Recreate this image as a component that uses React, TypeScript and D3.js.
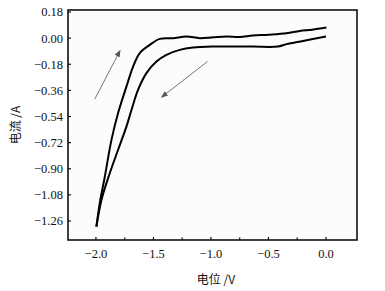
import React from "react";
import * as d3 from "d3";

const forwardX = [-1.996, -1.967, -1.923, -1.865, -1.808, -1.735, -1.677, -1.619, -1.532, -1.445, -1.33, -1.213, -1.097, -0.98, -0.865, -0.75, -0.637, -0.5, -0.343, -0.228, -0.12, 0.004];
const forwardY = [-1.299, -1.137, -0.955, -0.701, -0.517, -0.334, -0.196, -0.103, -0.046, -0.005, 0.0, 0.011, 0.0, 0.006, 0.011, 0.008, 0.018, 0.024, 0.034, 0.05, 0.058, 0.073];
const reverseX = [0.0, -0.2, -0.343, -0.419, -0.636, -0.837, -0.982, -1.156, -1.271, -1.387, -1.474, -1.561, -1.634, -1.691, -1.735, -1.808, -1.88, -1.952, -1.996];
const reverseY = [0.011, -0.019, -0.041, -0.058, -0.058, -0.058, -0.058, -0.065, -0.081, -0.115, -0.161, -0.241, -0.357, -0.495, -0.61, -0.771, -0.931, -1.115, -1.299];

const yTicks = [0.18, 0.0, -0.18, -0.36, -0.54, -0.72, -0.9, -1.08, -1.26];
const xTicks = [-2.0, -1.5, -1.0, -0.5, 0.0];
const xMinor = [-1.75, -1.25, -0.75, -0.25];

const arrowUp = [[-2.01, -0.42], [-1.79, -0.085]];
const arrowDown = [[-1.03, -0.161], [-1.43, -0.407]];

const fmt = (v: number) => (v < 0 ? "\u2212" : "") + Math.abs(v).toFixed(2);
const fmtX = (v: number) => (v < 0 ? "\u2212" : "") + Math.abs(v).toFixed(1);

export default function App() {
  const left = 68, right = 357, top = 10, bottom = 240;
  const x = d3.scaleLinear().domain([-2.243, 0.27]).range([left, right]);
  const y = d3.scaleLinear().domain([-1.391, 0.194]).range([bottom, top]);
  const line = d3.line<[number, number]>().x(d => x(d[0])).y(d => y(d[1])).curve(d3.curveCatmullRom.alpha(0.5));
  const fwd = forwardX.map((v, i) => [v, forwardY[i]] as [number, number]);
  const rev = reverseX.map((v, i) => [v, reverseY[i]] as [number, number]);
  const serif: React.CSSProperties = { fontFamily: "'Liberation Serif', 'Times New Roman', Times, serif" };
  const cjk: React.CSSProperties = { fontFamily: "'Noto Sans CJK SC', sans-serif" };
  const arrow = (a: number[][], key: string) => (
    <line key={key} x1={x(a[0][0])} y1={y(a[0][1])} x2={x(a[1][0])} y2={y(a[1][1])}
      stroke="#777" strokeWidth={1} markerEnd="url(#ah)" />
  );
  return (
    <svg width={385} height={291} style={{ position: "absolute", left: 0, top: 0 }}>
      <defs>
        <marker id="ah" viewBox="0 0 10 10" refX="9" refY="5" markerWidth="7" markerHeight="7" orient="auto" markerUnits="userSpaceOnUse">
          <path d="M0,1 L10,5 L0,9 z" fill="#555" />
        </marker>
      </defs>
      <rect x={0} y={0} width={385} height={291} fill="#fff" />
      <rect x={left} y={top} width={right - left} height={bottom - top} fill="#fcfcfc" stroke="#111" strokeWidth={1.6} />
      {yTicks.map(t => (
        <g key={"y" + t}>
          <line x1={left} x2={left + 3} y1={y(t)} y2={y(t)} stroke="#111" strokeWidth={1.2} />
          <text x={63} y={y(t)} dy="0.35em" textAnchor="end" style={serif} fontSize={12.5} fill="#111">{fmt(t)}</text>
        </g>
      ))}
      {xTicks.map(t => (
        <g key={"x" + t}>
          <line x1={x(t)} x2={x(t)} y1={bottom} y2={bottom - 3} stroke="#111" strokeWidth={1.2} />
          <text x={x(t)} y={258} textAnchor="middle" style={serif} fontSize={12.5} fill="#111">{fmtX(t)}</text>
        </g>
      ))}
      {xMinor.map(t => (
        <line key={"m" + t} x1={x(t)} x2={x(t)} y1={bottom} y2={bottom - 2.5} stroke="#111" strokeWidth={1.2} />
      ))}
      <path d={line(fwd) || ""} fill="none" stroke="#000" strokeWidth={2} strokeLinejoin="round" />
      <path d={line(rev) || ""} fill="none" stroke="#000" strokeWidth={2} strokeLinejoin="round" />
      {arrow(arrowUp, "a1")}
      {arrow(arrowDown, "a2")}
      <text transform="translate(20,125) rotate(-90)" textAnchor="middle" style={cjk} fontSize={12} fill="#111">电流 /A</text>
      <text x={216} y={284} textAnchor="middle" style={cjk} fontSize={12} fill="#111">电位 /V</text>
    </svg>
  );
}
